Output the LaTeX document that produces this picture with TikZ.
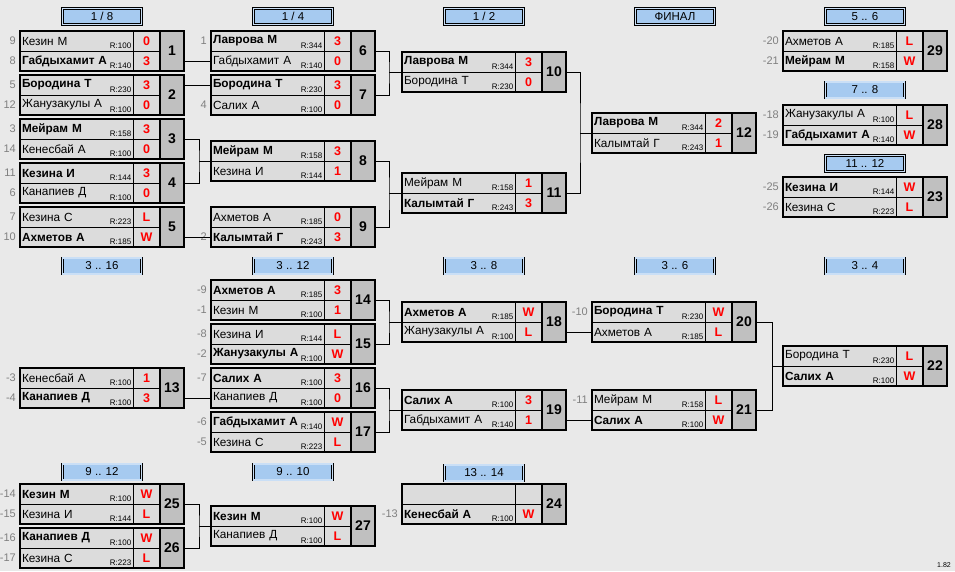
\documentclass[tikz,border=0pt]{standalone}
\usepackage{fontspec}
\setmainfont{Liberation Sans}
\usetikzlibrary{positioning}

\definecolor{bgcol}{HTML}{E9E9E9}
\definecolor{cellcol}{HTML}{DCDCDC}
\definecolor{numcol}{HTML}{C0C0C0}
\definecolor{headcol}{HTML}{A6CAF0}
\definecolor{seedcol}{HTML}{808080}

\tikzset{
    namecell/.style={draw, line width=0.6pt, fill=cellcol, outer sep=0pt, inner xsep=2pt, inner ysep=0pt,
        text width=109pt, align=left, minimum height=20pt, font=\fontsize{11.8}{13}\selectfont},
    scorecell/.style={draw, line width=0.6pt, fill=cellcol, outer sep=0pt, inner sep=0pt,
        minimum width=27pt, minimum height=20pt, text=red, font=\bfseries\fontsize{12.5}{14}\selectfont},
    numcell/.style={draw, line width=1.6pt, fill=numcol, outer sep=0pt, inner sep=0pt,
        minimum width=24pt, minimum height=40pt, font=\bfseries\fontsize{14}{16}\selectfont},
    rating/.style={anchor=south east, inner xsep=1.5pt, inner ysep=2pt, font=\fontsize{8}{9}\selectfont},
    frame/.style={line width=2.2pt},
    seed/.style={text=seedcol, inner sep=0.5pt, font=\fontsize{11}{13}\selectfont},
    head/.style={draw, line width=0.6pt, double=headcol!60!white, double distance=1.2pt, fill=headcol,
        minimum width=79pt, minimum height=16pt, inner sep=0pt, font=\fontsize{11.5}{13}\selectfont},
    link/.style={line width=0.8pt}
}

% id, top left corner, match number, then name / rating / score for both rows
\newcommand{\pair}[9]{%
    \node[namecell, anchor=north west] (#1a) at #2 {#4};
    \node[namecell, below=0pt of #1a] (#1b) {#7};
    \node[rating] (#1ar) at (#1a.south east) {\ifx\relax#5\relax\else R:#5\fi};
    \node[rating] (#1br) at (#1b.south east) {\ifx\relax#8\relax\else R:#8\fi};
    \node[scorecell, right=0pt of #1a] (#1s) {#6};
    \node[scorecell, right=0pt of #1b] (#1t) {#9};
    \node[numcell, anchor=north west] (#1) at (#1s.north east) {#3};
    \draw[frame] (#1a.north west) rectangle (#1.south east);
}
\newcommand{\seed}[2]{\node[seed, left=3.5pt of #1] (#1x) {#2};}

\begin{document}
\begin{tikzpicture}[x=1pt, y=-1pt]
    \useasboundingbox[fill=bgcol] (0,0) rectangle (955,571);

    \node[head] (h18) at (102,16.5) {1 / 8};
    \node[head] (h14) at (293,16.5) {1 / 4};
    \node[head] (h12) at (484,16.5) {1 / 2};
    \node[head] (hfin) at (675,16.5) {ФИНАЛ};
    \node[head] (h56) at (865,16.5) {5 .. 6};
    \node[head] (h78) at (865,90) {7 .. 8};
    \node[head] (h1112) at (865,163.5) {11 .. 12};
    \node[head] (h316) at (102,266) {3 .. 16};
    \node[head] (h312) at (293,266) {3 .. 12};
    \node[head] (h38) at (484,266) {3 .. 8};
    \node[head] (h36) at (675,266) {3 .. 6};
    \node[head] (h34) at (865,266) {3 .. 4};
    \node[head] (h912) at (102,472) {9 .. 12};
    \node[head] (h910) at (293,472) {9 .. 10};
    \node[head] (h1314) at (484,473) {13 .. 14};

    \pair{m1}{(20,31)}{1}{Кезин М}{100}{0}{\bfseries Габдыхамит А}{140}{3}
    \pair{m2}{(20,75)}{2}{\bfseries Бородина Т}{230}{3}{Жанузакулы А}{100}{0}
    \pair{m3}{(20,119)}{3}{\bfseries Мейрам М}{158}{3}{Кенесбай А}{100}{0}
    \pair{m4}{(20,163)}{4}{\bfseries Кезина И}{144}{3}{Канапиев Д}{100}{0}
    \pair{m5}{(20,207)}{5}{Кезина С}{223}{L}{\bfseries Ахметов А}{185}{W}
    \pair{m6}{(211,31)}{6}{\bfseries Лаврова М}{344}{3}{Габдыхамит А}{140}{0}
    \pair{m7}{(211,75)}{7}{\bfseries Бородина Т}{230}{3}{Салих А}{100}{0}
    \pair{m8}{(211,141)}{8}{\bfseries Мейрам М}{158}{3}{Кезина И}{144}{1}
    \pair{m9}{(211,207)}{9}{Ахметов А}{185}{0}{\bfseries Калымтай Г}{243}{3}
    \pair{m10}{(402,52)}{10}{\bfseries Лаврова М}{344}{3}{Бородина Т}{230}{0}
    \pair{m11}{(402,173)}{11}{Мейрам М}{158}{1}{\bfseries Калымтай Г}{243}{3}
    \pair{m12}{(592,113)}{12}{\bfseries Лаврова М}{344}{2}{Калымтай Г}{243}{1}
    \pair{m29}{(783,31)}{29}{Ахметов А}{185}{L}{\bfseries Мейрам М}{158}{W}
    \pair{m28}{(783,105)}{28}{Жанузакулы А}{100}{L}{\bfseries Габдыхамит А}{140}{W}
    \pair{m23}{(783,177)}{23}{\bfseries Кезина И}{144}{W}{Кезина С}{223}{L}
    \pair{m13}{(20,368)}{13}{Кенесбай А}{100}{1}{\bfseries Канапиев Д}{100}{3}
    \pair{m14}{(211,280)}{14}{\bfseries Ахметов А}{185}{3}{Кезин М}{100}{1}
    \pair{m15}{(211,324)}{15}{Кезина И}{144}{L}{\bfseries Жанузакулы А}{100}{W}
    \pair{m16}{(211,368)}{16}{\bfseries Салих А}{100}{3}{Канапиев Д}{100}{0}
    \pair{m17}{(211,412)}{17}{\bfseries Габдыхамит А}{140}{W}{Кезина С}{223}{L}
    \pair{m18}{(402,302)}{18}{\bfseries Ахметов А}{185}{W}{Жанузакулы А}{100}{L}
    \pair{m19}{(402,390)}{19}{\bfseries Салих А}{100}{3}{Габдыхамит А}{140}{1}
    \pair{m20}{(592,302)}{20}{\bfseries Бородина Т}{230}{W}{Ахметов А}{185}{L}
    \pair{m21}{(592,390)}{21}{Мейрам М}{158}{L}{\bfseries Салих А}{100}{W}
    \pair{m22}{(783,346)}{22}{Бородина Т}{230}{L}{\bfseries Салих А}{100}{W}
    \pair{m25}{(20,484)}{25}{\bfseries Кезин М}{100}{W}{Кезина И}{144}{L}
    \pair{m26}{(20,528)}{26}{\bfseries Канапиев Д}{100}{W}{Кезина С}{223}{L}
    \pair{m27}{(211,506)}{27}{\bfseries Кезин М}{100}{W}{Канапиев Д}{100}{L}
    \pair{m24}{(402,484)}{24}{}{}{}{\bfseries Кенесбай А}{100}{W}

    \seed{m1a}{9} \seed{m1b}{8} \seed{m2a}{5} \seed{m2b}{12}
    \seed{m3a}{3} \seed{m3b}{14} \seed{m4a}{11} \seed{m4b}{6}
    \seed{m5a}{7} \seed{m5b}{10}
    \seed{m6a}{1} \seed{m7b}{4} \seed{m9b}{2}
    \seed{m29a}{-20} \seed{m29b}{-21} \seed{m28a}{-18} \seed{m28b}{-19}
    \seed{m23a}{-25} \seed{m23b}{-26}
    \seed{m13a}{-3} \seed{m13b}{-4}
    \seed{m14a}{-9} \seed{m14b}{-1} \seed{m15a}{-8} \seed{m15b}{-2}
    \seed{m16a}{-7} \seed{m17a}{-6} \seed{m17b}{-5}
    \seed{m20a}{-10} \seed{m21a}{-11}
    \seed{m25a}{-14} \seed{m25b}{-15} \seed{m26a}{-16} \seed{m26b}{-17}
    \seed{m24b}{-13}

    \draw[link] (m6b.west) -- (m6b.west -| m1.east);
    \draw[link] (m7a.west) -- (m7a.west -| m2.east);
    \draw[link] (m8a.south west) -- ++(-12pt,0) coordinate (j8) (m3.east) -| (j8) |- (m4.east);
    \draw[link] (m9b.west) -- (m9b.west -| m5.east);
    \draw[link] (m10a.south west) -- ++(-13pt,0) coordinate (j10) (m6.east) -| (j10) |- (m7.east);
    \draw[link] (m11a.south west) -- ++(-13pt,0) coordinate (j11) (m8.east) -| (j11) |- (m9.east);
    \draw[link] (m12a.south west) -- ++(-12pt,0) coordinate (j12) (m10.east) -| (j12) |- (m11.east);
    \draw[link] (m16b.west) -- (m16b.west -| m13.east);
    \draw[link] (m18a.south west) -- ++(-13pt,0) coordinate (j18) (m14.east) -| (j18) |- (m15.east);
    \draw[link] (m19a.south west) -- ++(-13pt,0) coordinate (j19) (m16.east) -| (j19) |- (m17.east);
    \draw[link] (m20b.west) -- (m20b.west -| m18.east);
    \draw[link] (m21b.west) -- (m21b.west -| m19.east);
    \draw[link] (m22a.south west) -- ++(-11pt,0) coordinate (j22) (m20.east) -| (j22) |- (m21.east);
    \draw[link] (m27a.south west) -- ++(-12pt,0) coordinate (j27) (m25.east) -| (j27) |- (m26.east);

    \node[font=\fontsize{7}{8}\selectfont] (ver) at (944,565) {1.82};
\end{tikzpicture}
\end{document}
